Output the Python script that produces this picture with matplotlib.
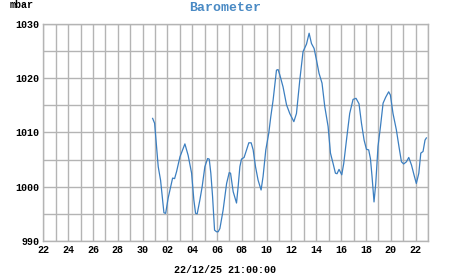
import matplotlib
matplotlib.use("Agg")
import matplotlib.pyplot as plt
from matplotlib.ticker import MultipleLocator

# days since 22 Nov (x axis runs 22 Nov .. 23 Dec)
days = [8.81, 8.97, 9.26, 9.45, 9.72, 9.86, 10.06, 10.42, 10.58, 10.74, 11.01, 11.41,
        11.67, 11.95, 12.13, 12.27, 12.40, 12.62, 12.80, 13.02, 13.24, 13.37, 13.50,
        13.64, 13.80, 13.96, 14.09, 14.23, 14.49, 14.77, 14.98, 15.09, 15.30, 15.57,
        15.70, 15.84, 15.97, 16.18, 16.38, 16.56, 16.75, 16.91, 17.10, 17.31, 17.55,
        17.71, 17.93, 18.17, 18.33, 18.52, 18.79, 18.92, 19.06, 19.32, 19.60, 19.86,
        20.19, 20.40, 20.67, 20.93, 21.21, 21.42, 21.61, 21.82, 22.01, 22.22, 22.46,
        22.68, 22.95, 23.14, 23.35, 23.54, 23.67, 23.83, 24.05, 24.21, 24.43, 24.69,
        24.96, 25.20, 25.44, 25.64, 25.85, 26.04, 26.22, 26.36, 26.49, 26.65, 26.79,
        26.97, 27.17, 27.38, 27.59, 27.83, 27.97, 28.18, 28.45, 28.66, 28.86, 29.04,
        29.26, 29.45, 29.67, 29.87, 30.06, 30.26, 30.42, 30.60, 30.76, 30.87]
pressure = [1012.6, 1011.7, 1003.7, 1001.2, 995.2, 995.1, 997.9, 1001.6, 1001.5, 1002.8,
            1005.5, 1007.9, 1005.8, 1002.5, 997.6, 995.1, 995.0, 997.6, 1000.0, 1003.7,
            1005.2, 1005.1, 1002.5, 998.2, 992.0, 991.7, 991.7, 992.3, 995.7, 1000.6,
            1002.6, 1002.5, 999.1, 997.0, 1000.0, 1003.7, 1005.1, 1005.4, 1006.8, 1008.1,
            1008.1, 1006.8, 1003.7, 1001.2, 999.4, 1001.9, 1006.8, 1009.9, 1012.9, 1016.0,
            1021.5, 1021.6, 1020.6, 1018.4, 1015.1, 1013.5, 1012.0, 1013.5, 1019.7, 1024.9,
            1026.3, 1028.3, 1026.4, 1025.5, 1023.4, 1020.9, 1019.1, 1014.8, 1011.1, 1006.2,
            1004.3, 1002.5, 1002.4, 1003.2, 1002.2, 1004.3, 1008.6, 1013.5, 1016.1, 1016.3,
            1015.3, 1011.7, 1008.6, 1006.9, 1006.8, 1005.2, 1001.9, 997.2, 1000.6, 1007.4,
            1011.1, 1015.4, 1016.5, 1017.5, 1016.9, 1013.5, 1010.5, 1007.4, 1004.6, 1004.2,
            1004.6, 1005.4, 1004.0, 1002.2, 1000.6, 1002.5, 1006.2, 1006.5, 1008.6, 1009.0]

tick_labels = ["22", "24", "26", "28", "30", "02", "04", "06", "08", "10",
               "12", "14", "16", "18", "20", "22"]
y_ticks = [990, 1000, 1010, 1020, 1030]
title = "Barometer"
unit = "mbar"
xlabel = "22/12/25 21:00:00"

mono = "Liberation Mono"
fig = plt.figure(figsize=(4.51, 2.75), dpi=100)
ax = fig.add_axes([43.3 / 451, 1 - 241 / 275, (428 - 43.3) / 451, (241 - 24) / 275])
ax.plot(days, pressure, color="#3c7fc0", linewidth=0.9)
ax.set_xlim(0, 31)
ax.set_ylim(990, 1030)
ax.set_xticks(range(0, 31, 2))
ax.set_xticklabels(tick_labels)
ax.xaxis.set_minor_locator(MultipleLocator(1))
ax.set_yticks(y_ticks)
ax.yaxis.set_minor_locator(MultipleLocator(5))
ax.grid(True, which="both", color="#b4b4b4", linewidth=1.0)
ax.set_axisbelow(True)
for s in ax.spines.values():
    s.set_color("#b4b4b4")
    s.set_linewidth(1.0)
ax.tick_params(which="both", length=0, pad=3)
for lab in ax.get_xticklabels() + ax.get_yticklabels():
    lab.set_fontfamily(mono)
    lab.set_fontweight("bold")
    lab.set_fontsize(7.2)
fig.text(225 / 451, 1 - 8 / 275, title, ha="center", va="center", color="#4a8ac4",
         fontfamily=mono, fontweight="bold", fontsize=9.5)
fig.text(10 / 451, 1 - 5 / 275, unit, ha="left", va="center", color="black",
         fontfamily=mono, fontweight="bold", fontsize=7.2)
fig.text(225 / 451, 1 - 270 / 275, xlabel, ha="center", va="center", color="black",
         fontfamily=mono, fontweight="bold", fontsize=7.2)
fig.savefig("out.png", dpi=100)
